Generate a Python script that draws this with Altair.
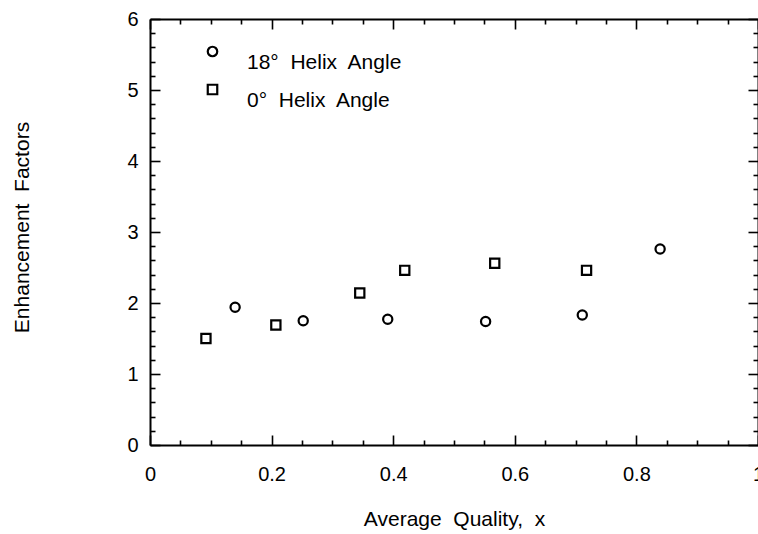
import altair as alt
import pandas as pd

# Data
series_names = ["18\u00b0\u00a0 Helix\u00a0 Angle", "0\u00b0\u00a0 Helix\u00a0 Angle"]
x_18 = [0.140, 0.252, 0.391, 0.552, 0.711, 0.839]
y_18 = [1.94, 1.75, 1.77, 1.74, 1.83, 2.76]
x_0 = [0.092, 0.207, 0.345, 0.419, 0.567, 0.718]
y_0 = [1.50, 1.69, 2.14, 2.46, 2.56, 2.46]

x_tick_values = [round(i * 0.05, 2) for i in range(21)]
y_tick_values = [round(i * 0.2, 1) for i in range(31)]

rows = []
for xv, yv in zip(x_18, y_18):
    rows.append({"x": xv, "y": yv, "series": series_names[0]})
for xv, yv in zip(x_0, y_0):
    rows.append({"x": xv, "y": yv, "series": series_names[1]})
df = pd.DataFrame(rows)

FONT = "Liberation Sans"
x_major = "abs(datum.value*5 - round(datum.value*5)) < 0.001"
y_major = "abs(datum.value - round(datum.value)) < 0.001"
x_tick_size = alt.ExprRef(f"{x_major} ? -10 : -5")
y_tick_size = alt.ExprRef(f"{y_major} ? -10 : -5")

x_scale = alt.Scale(domain=[0, 1], nice=False, zero=False)
y_scale = alt.Scale(domain=[0, 6], nice=False, zero=False)

common_axis = dict(grid=False, domainColor="black", domainWidth=2, tickColor="black",
                   tickWidth=1.6, labelColor="black", titleColor="black",
                   labelFont=FONT, titleFont=FONT, labelOverlap=False, labelFlush=False)

x_axis_bottom = alt.Axis(
    orient="bottom", values=x_tick_values, tickSize=x_tick_size,
    labelExpr=f"{x_major} ? (datum.value == 0 || datum.value == 1 ? format(datum.value, 'd') : format(datum.value, '.1f')) : ''",
    labelFontSize=20, labelPadding=29,
    title="Average\u00a0 Quality,\u00a0 x", titleFontSize=21, titleFontWeight="normal",
    titleX=304, titleY=74, titleBaseline="middle", titleAlign="center",
    **common_axis)
y_axis_left = alt.Axis(
    orient="left", values=y_tick_values, tickSize=y_tick_size,
    labelExpr=f"{y_major} ? format(datum.value, 'd') : ''",
    labelFontSize=20, labelPadding=22,
    title="Enhancement\u00a0 Factors", titleFontSize=21, titleFontWeight="normal",
    titleX=-128, titleY=208, titleBaseline="middle", titleAlign="center", titleAngle=270,
    **common_axis)
x_axis_top = alt.Axis(orient="top", values=x_tick_values, tickSize=x_tick_size,
                      labels=False, title=None, **common_axis)
y_axis_right = alt.Axis(orient="right", values=y_tick_values, tickSize=y_tick_size,
                        labels=False, title=None, **common_axis)

points = alt.Chart(df).mark_point(filled=False, color="black", strokeWidth=2.2, opacity=1, size=85).encode(
    x=alt.X("x:Q", scale=x_scale, axis=x_axis_bottom),
    y=alt.Y("y:Q", scale=y_scale, axis=y_axis_left),
    shape=alt.Shape("series:N", scale=alt.Scale(domain=series_names, range=["circle", "square"]),
                    legend=alt.Legend(orient="none", legendX=52, legendY=22, title=None,
                                      padding=0, labelFont=FONT, labelFontSize=21,
                                      labelColor="black", labelOffset=24, rowPadding=6,
                                      symbolSize=90, symbolStrokeWidth=2.2,
                                      symbolStrokeColor="black", labelBaseline="top")),
)

mirror = alt.Chart(df).mark_point(opacity=0).encode(
    x=alt.X("x:Q", scale=x_scale, axis=x_axis_top),
    y=alt.Y("y:Q", scale=y_scale, axis=y_axis_right),
)

chart = alt.layer(points, mirror).resolve_axis(x="independent", y="independent").properties(
    width=608, height=426,
    padding={"left": 150, "top": 19, "right": 0, "bottom": 89},
    autosize="none",
).configure_view(strokeWidth=0).configure(background="white")

chart.save("out.html", embed_options={"renderer": "svg", "actions": False})
